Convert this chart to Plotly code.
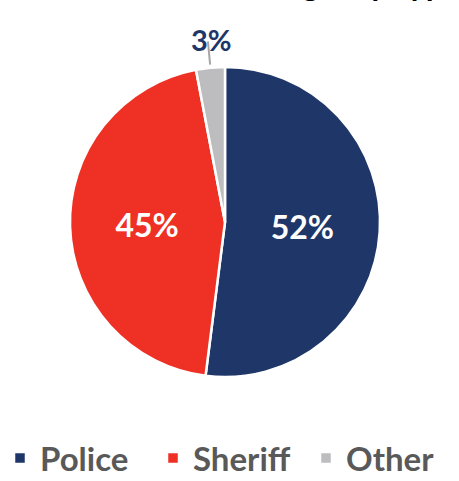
import math
import plotly.graph_objects as go

# ---- data ----
categories = ["Police", "Sheriff", "Other"]
values = [52, 45, 3]
colors = ["#1f3669", "#ee3124", "#bdbdbf"]
title_text = "Agency Type"

W, H = 459, 481
# pie geometry (pixels)
cx, cy, R = 225, 222, 155

labels_text = [f"{v}%" for v in values]
texttemplate = [t if v >= 10 else "" for t, v in zip(labels_text, values)]

fig = go.Figure(go.Pie(
    labels=categories,
    values=values,
    sort=False,
    direction="clockwise",
    rotation=0,
    marker=dict(colors=colors, line=dict(color="white", width=2.5)),
    texttemplate=texttemplate,
    textposition="inside",
    insidetextorientation="horizontal",
    textfont=dict(family="Lato", size=32, color="white", weight="bold"),
    hoverinfo="label+percent",
    domain=dict(x=[(cx - R) / W, (cx + R) / W], y=[1 - (cy + R) / H, 1 - (cy - R) / H]),
))

# outside label with leader line for small slices
total = sum(values)
cum = 0
for v, t in zip(values, labels_text):
    mid = (cum + v / 2) / total * 2 * math.pi
    cum += v
    if v >= 10:
        continue
    sx, sy = math.sin(mid), -math.cos(mid)
    x0, y0 = cx + sx * R * 1.02, cy + sy * R * 1.02
    x1, y1 = cx + sx * R * 1.17, cy + sy * R * 1.17
    fig.add_shape(type="line", xref="paper", yref="paper",
                  x0=x0 / W, y0=1 - y0 / H, x1=x1 / W, y1=1 - y1 / H,
                  line=dict(color="#a6a6a6", width=2))
    lx, ly = cx + sx * R * 1.31 + 6, cy + sy * R * 1.31
    fig.add_annotation(x=lx / W, y=1 - ly / H, xref="paper", yref="paper",
                       text=t, showarrow=False,
                       font=dict(family="Lato", size=29, color="#1f3669", weight="bold"))

# cropped title at top (only its descenders show, as in the reference)
fig.add_annotation(x=277 / W, y=1 - 5 / H, xref="paper", yref="paper",
                   xanchor="left", yanchor="bottom", text=title_text, showarrow=False,
                   font=dict(family="Lato", size=32, color="black", weight="bold"))

fig.update_layout(
    width=W, height=H,
    margin=dict(l=0, r=0, t=0, b=0, autoexpand=False),
    paper_bgcolor="white",
    plot_bgcolor="white",
    showlegend=True,
    legend=dict(
        orientation="h",
        x=0.5, xanchor="center",
        y=-5 / H, yanchor="bottom",
        font=dict(family="Lato", size=33, color="#595959", weight="bold"),
        entrywidth=108,
        entrywidthmode="pixels",
        itemclick=False,
    ),
)

fig.write_html("out.html")
